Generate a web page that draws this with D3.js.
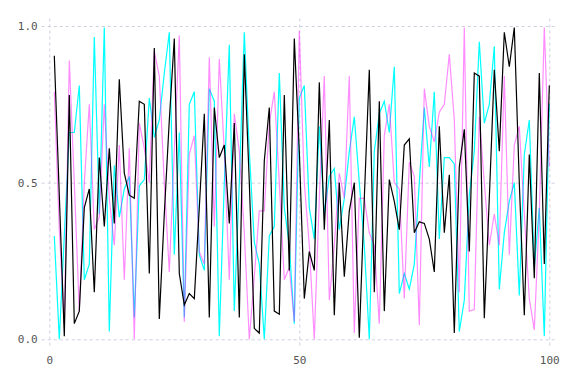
<!DOCTYPE html>
<html>
<head>
<meta charset="utf-8">
<script src="https://cdn.jsdelivr.net/npm/d3@7"></script>
<style>
  body { margin: 0; background: #fff; }
  .tick text { font-family: "DejaVu Sans Mono", monospace; font-size: 11px; fill: #555; }
</style>
</head>
<body>
<div class="chart"></div>
<script>
// values, x = 1..100
const blackVals = [0.905,0.46,0.01,0.78,0.05,0.09,0.42,0.48,0.15,0.58,
  0.36,0.61,0.37,0.83,0.53,0.46,0.45,0.76,0.75,0.21,
  0.93,0.065,0.40,0.70,0.96,0.21,0.11,0.146,0.13,0.42,
  0.72,0.07,0.74,0.58,0.62,0.37,0.69,0.07,0.91,0.5,
  0.035,0.02,0.57,0.74,0.09,0.08,0.78,0.22,0.96,0.6,
  0.13,0.28,0.22,0.82,0.35,0.70,0.077,0.50,0.2,0.41,
  0.50,0.005,0.45,0.86,0.15,0.76,0.09,0.51,0.44,0.35,
  0.62,0.64,0.34,0.375,0.37,0.32,0.215,0.68,0.34,0.525,
  0.02,0.55,0.67,0.28,0.85,0.84,0.067,0.45,0.86,0.6,
  0.98,0.87,0.995,0.5,0.077,0.59,0.195,0.85,0.24,0.81];
const cyanVals = [0.33,0.0,0.33,0.66,0.66,0.81,0.19,0.24,0.965,0.40,
  0.995,0.025,0.555,0.39,0.48,0.52,0.07,0.49,0.51,0.77,
  0.645,0.70,0.85,0.98,0.27,0.66,0.07,0.75,0.79,0.27,
  0.22,0.80,0.76,0.01,0.5,0.94,0.09,0.5,0.98,0.6,
  0.31,0.24,0.0,0.33,0.36,0.85,0.42,0.30,0.05,0.77,
  0.81,0.42,0.32,0.68,0.4,0.52,0.545,0.35,0.45,0.6,
  0.71,0.5,0.3,0.0,0.6,0.72,0.76,0.66,0.87,0.146,
  0.21,0.16,0.24,0.5,0.74,0.55,0.79,0.32,0.58,0.58,
  0.56,0.025,0.125,0.46,0.6,0.95,0.69,0.75,0.935,0.16,
  0.34,0.44,0.50,0.14,0.59,0.70,0.23,0.42,0.01,0.75];
const magentaVals = [0.79,0.35,0.05,0.89,0.5,0.09,0.5,0.75,0.35,0.39,
  0.75,0.45,0.30,0.62,0.19,0.61,0.0,0.69,0.61,0.50,
  0.92,0.84,0.5,0.215,0.6,0.97,0.056,0.59,0.65,0.28,
  0.24,0.9,0.36,0.895,0.6,0.19,0.72,0.6,0.34,0.0,
  0.2,0.41,0.41,0.69,0.79,0.5,0.19,0.23,0.056,0.985,
  0.5,0.3,0.0,0.45,0.84,0.125,0.3,0.53,0.45,0.84,
  0.02,0.45,0.45,0.34,0.3,0.05,0.65,0.75,0.5,0.48,
  0.13,0.565,0.52,0.045,0.80,0.68,0.63,0.725,0.75,0.91,
  0.70,0.15,0.995,0.09,0.095,0.71,0.5,0.3,0.4,0.3,
  0.84,0.27,0.62,0.68,0.4,0.13,0.03,0.4,0.995,0.55];
const xTicks = [0, 50, 100];
const yTicks = [0, 0.5, 1.0];

const width = 576, height = 384;
const svg = d3.select(".chart").append("svg").attr("width", width).attr("height", height);

const x = d3.scaleLinear().domain([0, 100]).range([49.3, 549.3]);
const y = d3.scaleLinear().domain([0, 1]).range([339.3, 26]);

// grid, drawn as long dashed ticks
const xAxis = d3.axisBottom(x).tickValues(xTicks).tickFormat(d3.format("d"))
  .tickSize(-(339.3 - 18)).tickPadding(11);
svg.append("g").attr("class", "axis x-axis")
  .attr("transform", "translate(0,345.5)")
  .call(xAxis)
  .call(g => g.select(".domain").remove());

const yAxis = d3.axisLeft(y).tickValues(yTicks).tickFormat(d3.format(".1f"))
  .tickSize(-(557 - 42)).tickPadding(4);
svg.append("g").attr("class", "axis y-axis")
  .attr("transform", "translate(41.7,0)")
  .call(yAxis)
  .call(g => g.select(".domain").remove());

svg.selectAll(".tick line")
  .attr("stroke", "#cfcfe0")
  .attr("stroke-dasharray", "3,3");

// x axis tick lines extend upward from 345.5, shift them so they start at bottom
svg.selectAll(".x-axis .tick line").attr("y1", 0).attr("y2", -(345.5 - 18));
svg.selectAll(".y-axis .tick line").attr("x1", 0).attr("x2", 557 - 41.7);

const line = d3.line().x((d, i) => x(i + 1)).y(d => y(d));

const series = [
  {vals: cyanVals, color: "#00ffff", op: 1},
  {vals: magentaVals, color: "#ff00ff", op: 0.45},
  {vals: blackVals, color: "#000000", op: 1}
];

svg.selectAll(".series")
  .data(series)
  .enter()
  .append("path")
  .attr("class", "series")
  .attr("d", d => line(d.vals))
  .attr("fill", "none")
  .attr("stroke", d => d.color)
  .attr("stroke-opacity", d => d.op)
  .attr("stroke-width", 1.2)
  .attr("stroke-linejoin", "miter");
</script>
</body>
</html>
